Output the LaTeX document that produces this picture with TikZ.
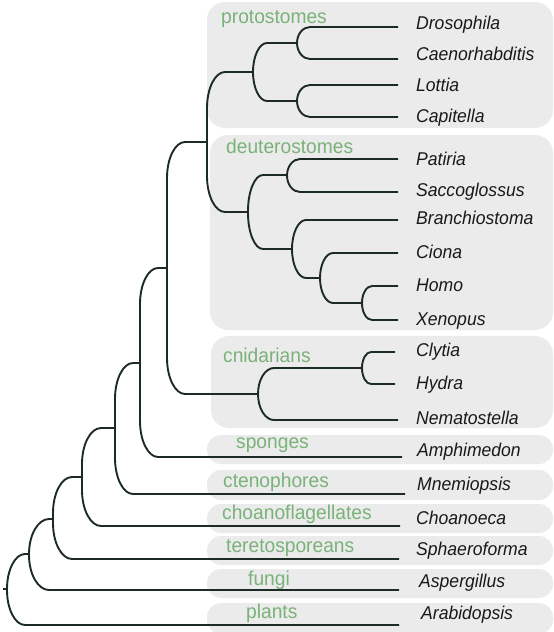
\documentclass[tikz,border=0pt]{standalone}
\usepackage{fontspec}
\setmainfont{Liberation Sans}
\newfontfamily\leaffont{Liberation Sans}[FakeStretch=0.95]
\newfontfamily\groupfont{Liberation Sans}[FakeStretch=0.96]
\usetikzlibrary{calc}
\definecolor{boxgray}{RGB}{235,235,235}
\definecolor{grouptext}{RGB}{122,178,122}
\definecolor{branchcol}{RGB}{28,44,36}
\tikzset{
  branch/.style={draw=branchcol, line width=1.9pt},
  groupbox/.style={fill=boxgray, rounded corners=#1},
  groupbox/.default=14pt,
  leaf/.style={anchor=base west, inner sep=0pt, font=\leaffont\itshape\fontsize{18.5pt}{20pt}\selectfont, text=black!90},
  grouplabel/.style={anchor=base west, inner sep=0pt, font=\groupfont\fontsize{20pt}{22pt}\selectfont, text=grouptext},
}
% parent, top child, bottom child, dx, dy
\newcommand\clade[5]{%
  \draw[branch] (#2) -- ($(#1|-#2)+(#4,0)$)
    .. controls ($(#1|-#2)+(0.45*#4,0)$) and ($(#1|-#2)+(0,0.45*#5)$) .. ($(#1|-#2)+(0,#5)$)
    -- ($(#1|-#3)+(0,-#5)$)
    .. controls ($(#1|-#3)+(0,-0.45*#5)$) and ($(#1|-#3)+(0.45*#4,0)$) .. ($(#1|-#3)+(#4,0)$) -- (#3);}
\begin{document}
\begin{tikzpicture}[x=1pt,y=-1pt]
\useasboundingbox (0,0) rectangle (554,632);
% group boxes
\fill[groupbox=18pt] (207,2) rectangle (553,128);
\fill[groupbox=18pt] (210,135) rectangle (553,330);
\fill[groupbox=18pt] (211,336) rectangle (553,428);
\fill[groupbox] (207,435) rectangle (553,464);
\fill[groupbox] (207,470) rectangle (553,500);
\fill[groupbox] (207,504) rectangle (553,533);
\fill[groupbox] (207,536) rectangle (553,565);
\fill[groupbox] (207,569) rectangle (553,598);
\fill[groupbox] (207,603) rectangle (553,634);
% leaf line ends
\coordinate (dros) at (398,27);
\coordinate (caeno) at (398,59);
\coordinate (lottia) at (398,85);
\coordinate (capit) at (398,117);
\coordinate (patiria) at (398,159);
\coordinate (sacco) at (398,192);
\coordinate (branchio) at (398,220);
\coordinate (ciona) at (398,253);
\coordinate (homo) at (398,286);
\coordinate (xeno) at (398,320);
\coordinate (clytia) at (395,352);
\coordinate (hydra) at (395,384);
\coordinate (nemato) at (398,420);
\coordinate (amphi) at (402,457);
\coordinate (mnemi) at (405,494);
\coordinate (choano) at (400,526);
\coordinate (sphaero) at (399,559);
\coordinate (asperg) at (399,590);
\coordinate (arabid) at (399,625);
% internal nodes
\coordinate (rootstub) at (3,589);
\coordinate (R0) at (7,589);
\coordinate (R1) at (29,554);
\coordinate (R2) at (53,519);
\coordinate (R3) at (82,477);
\coordinate (R4) at (115,428);
\coordinate (R5) at (140,363);
\coordinate (R6) at (167,268);
\coordinate (bil) at (207,142);
\coordinate (proto) at (253,72);
\coordinate (dc) at (297,43);
\coordinate (lc) at (297,101);
\coordinate (deut) at (248,212);
\coordinate (ps) at (287,175);
\coordinate (bc) at (292,249);
\coordinate (chx) at (320,278);
\coordinate (hx) at (362,303);
\coordinate (cnid) at (258,394);
\coordinate (ch) at (362,368);
% branches
\draw[branch] (rootstub) -- (R0);
\clade{R0}{R1}{arabid}{18}{35}
\clade{R1}{R2}{asperg}{20}{35}
\clade{R2}{R3}{sphaero}{19}{36}
\clade{R3}{R4}{choano}{19}{36}
\clade{R4}{R5}{mnemi}{18}{36}
\clade{R5}{R6}{amphi}{18}{36}
\clade{R6}{bil}{cnid}{18}{36}
\clade{bil}{proto}{deut}{18}{36}
\clade{proto}{dc}{lc}{14}{29}
\clade{dc}{dros}{caeno}{13}{16}
\clade{lc}{lottia}{capit}{13}{16}
\clade{deut}{ps}{bc}{15}{36}
\clade{ps}{patiria}{sacco}{13}{16.5}
\clade{bc}{branchio}{chx}{14}{29}
\clade{chx}{ciona}{hx}{13}{25}
\clade{hx}{homo}{xeno}{10}{17}
\clade{cnid}{ch}{nemato}{16}{26}
\clade{ch}{clytia}{hydra}{9}{16}
% group labels
\node[grouplabel] (lproto) at (221,23) {protostomes};
\node[grouplabel] (ldeut) at (226,153) {deuterostomes};
\node[grouplabel] (lcnid) at (223,362) {cnidarians};
\node[grouplabel] (lspong) at (236,448) {sponges};
\node[grouplabel] (lcteno) at (223,487) {ctenophores};
\node[grouplabel] (lchoano) at (222,519) {choanoflagellates};
\node[grouplabel] (ltereto) at (226,552) {teretosporeans};
\node[grouplabel] (lfungi) at (248,585) {fungi};
\node[grouplabel] (lplants) at (246,618) {plants};
% leaf labels
\node[leaf] (tdros) at (416,29) {Drosophila};
\node[leaf] (tcaeno) at (416,60) {Caenorhabditis};
\node[leaf] (tlottia) at (416,91) {Lottia};
\node[leaf] (tcapit) at (416,122) {Capitella};
\node[leaf] (tpatiria) at (416,165) {Patiria};
\node[leaf] (tsacco) at (416,196) {Saccoglossus};
\node[leaf] (tbranchio) at (416,224) {Branchiostoma};
\node[leaf] (tciona) at (416,258) {Ciona};
\node[leaf] (thomo) at (416,291) {Homo};
\node[leaf] (txeno) at (416,325) {Xenopus};
\node[leaf] (tclytia) at (416,356) {Clytia};
\node[leaf] (thydra) at (416,389) {Hydra};
\node[leaf] (tnemato) at (416,424) {Nematostella};
\node[leaf] (tamphi) at (417,456) {Amphimedon};
\node[leaf] (tmnemi) at (417,490) {Mnemiopsis};
\node[leaf] (tchoano) at (416,524) {Choanoeca};
\node[leaf] (tsphaero) at (416,555) {Sphaeroforma};
\node[leaf] (tasperg) at (419,587) {Aspergillus};
\node[leaf] (tarabid) at (421,619) {Arabidopsis};
\end{tikzpicture}
\end{document}
